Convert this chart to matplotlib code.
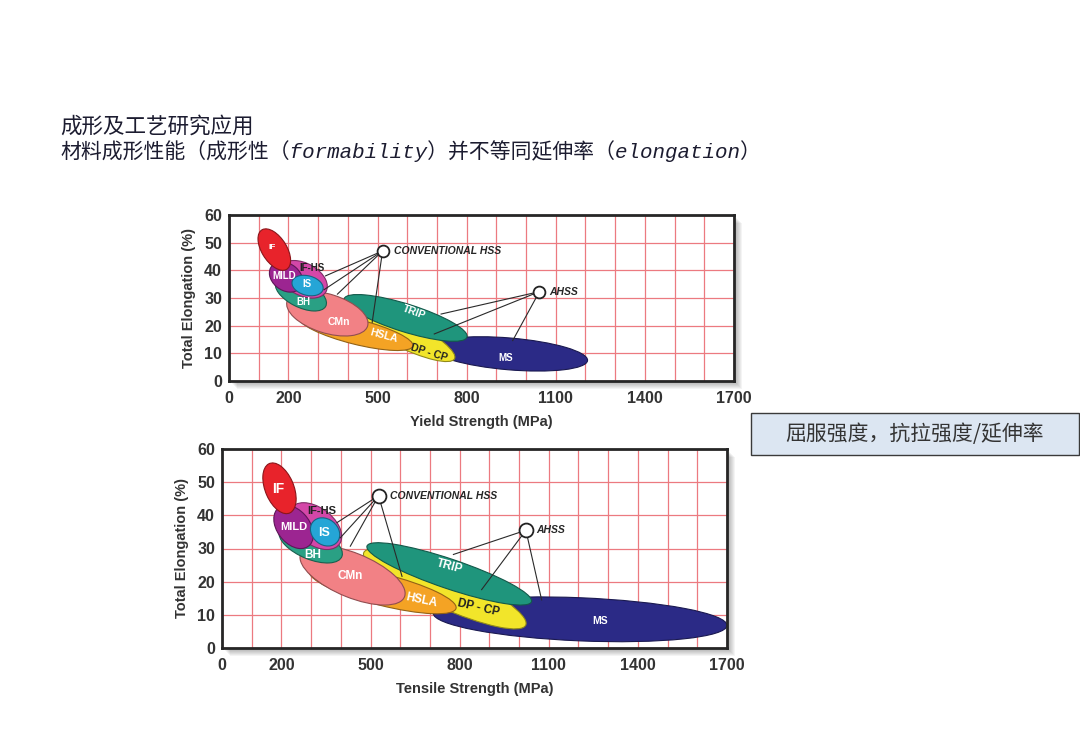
import numpy as np
import matplotlib
matplotlib.use("Agg")
import matplotlib.pyplot as plt
from matplotlib.patches import Ellipse, Rectangle
from matplotlib.transforms import Affine2D
import matplotlib.colors as mcolors

# ---------------- data ----------------
materials = ['MS', 'DP - CP', 'TRIP', 'HSLA', 'CMn', 'BH', 'IF-HS', 'MILD', 'IS', 'IF']
colors = ['#2b2a86', '#f2e52a', '#1f957c', '#f4a324', '#f28185', '#2aa084',
          '#d447a8', '#9c2591', '#25a5d6', '#e8232b']
label_colors = ['white', '#222222', 'white', 'white', 'white', 'white',
                '#222222', 'white', 'white', 'white']

# yield strength chart: major-axis tips (MPa, %) and minor axis (grid units)
ys_x1 = [680, 400, 388, 236, 196, 159, 174, 146, 213, 112]
ys_y1 = [12.2, 27.0, 29.8, 23.0, 29.0, 36.1, 41.5, 41.8, 36.1, 54.7]
ys_x2 = [1207, 759, 801, 619, 466, 325, 325, 238, 316, 193]
ys_y2 = [7.4, 8.0, 15.8, 12.6, 19.7, 26.9, 32.0, 33.4, 32.9, 40.3]
ys_minor = [1.15, 1.0, 1.0, 0.9, 1.4, 0.95, 1.15, 0.95, 0.7, 0.85]
ys_lx = [932, 673, 624, 522, 370, 252, 278, 185, 264, 146]
ys_ly = [8.4, 10.4, 24.8, 16.4, 21.2, 28.4, 41.0, 38.0, 35.0, 48.1]
ys_rot = [0, -17, -20, -15, 0, 0, 0, 0, 0, 0]
ys_fs = [7, 7.5, 7.5, 7.5, 7.5, 7, 7, 7, 7, 6]

# tensile strength chart
ts_x1 = [711, 477, 488, 294, 264, 193, 230, 185, 301, 157]
ts_y1 = [10.5, 28.7, 30.7, 23.1, 28.2, 35.3, 41.8, 41.8, 37.3, 55.5]
ts_x2 = [1700, 1023, 1042, 788, 615, 404, 398, 297, 393, 230]
ts_y2 = [6.8, 7.0, 14.0, 12.0, 15.6, 27.7, 31.7, 31.2, 32.7, 40.8]
ts_minor = [1.3, 1.15, 0.9, 0.95, 1.35, 0.95, 1.15, 1.05, 0.8, 0.95]
ts_lx = [1272, 863, 767, 673, 432, 305, 337, 241, 342, 191]
ts_ly = [8.0, 12.0, 24.6, 14.5, 21.8, 27.9, 41.3, 36.6, 34.7, 47.9]
ts_rot = [0, -13, -15, -12, 0, 0, 0, 0, 0, 0]
ts_fs = [7.5, 8.5, 8.5, 8.5, 8.5, 8.5, 8, 8, 9, 10]

# callouts: (x, y) of circle and ends of the leader lines
ys_chss = (517, 47.0)
ys_chss_ends_x = [325, 320, 365, 482]
ys_chss_ends_y = [38.0, 33.0, 31.4, 21.2]
ys_ahss = (1045, 32.3)
ys_ahss_ends_x = [714, 691, 955]
ys_ahss_ends_y = [24.2, 17.0, 14.6]

ts_chss = (527, 45.9)
ts_chss_ends_x = [387, 398, 432, 606]
ts_chss_ends_y = [37.8, 33.2, 30.7, 21.6]
ts_ahss = (1023, 35.5)
ts_ahss_ends_x = [779, 874, 1076]
ts_ahss_ends_y = [28.2, 17.6, 14.5]

xtick_vals = [0, 200, 500, 800, 1100, 1400, 1700]
ytick_vals = [0, 10, 20, 30, 40, 50, 60]

title1 = '成形及工艺研究应用'
title2 = '材料成形性能（成形性（formability）并不等同延伸率（elongation）'
box_text = '屈服强度，抗拉强度/延伸率'

# ---------------- drawing ----------------
W, H = 1080, 748
fig = plt.figure(figsize=(W / 100, H / 100), dpi=100)
fig.patch.set_facecolor('white')

GRID = '#ec7a80'
TICKFONT = dict(family='Liberation Sans', weight='bold', size=11.5, color='#333333')


def darken(c, f=0.6):
    r, g, b = mcolors.to_rgb(c)
    return (r * f, g * f, b * f)


def shadow(rect_px):
    x0, y0, w, h = rect_px
    for k in range(1, 9):
        fig.add_artist(Rectangle(((x0 + k) / W, (y0 - k) / H), w / W, h / H,
                                 transform=fig.transFigure, facecolor='#000000',
                                 edgecolor='none', alpha=0.045, zorder=-5))


def make_axes(left, top, bottom):
    rect = [left / W, 1 - bottom / H, 505 / W, (bottom - top) / H]
    shadow((left, H - bottom, 505, bottom - top))
    ax = fig.add_axes(rect)
    ax.set_xlim(0, 1700)
    ax.set_ylim(0, 60)
    ax.set_xticks(xtick_vals)
    ax.set_xticks(np.arange(0, 1701, 100), minor=True)
    ax.set_yticks(ytick_vals)
    ax.set_xticklabels([str(v) for v in xtick_vals], **TICKFONT)
    ax.set_yticklabels([str(v) for v in ytick_vals], **TICKFONT)
    ax.tick_params(which='both', length=0)
    ax.tick_params(axis='x', pad=7)
    ax.tick_params(axis='y', pad=5)
    ax.grid(True, which='both', color=GRID, lw=0.9)
    ax.set_axisbelow(True)
    for s in ax.spines.values():
        s.set_linewidth(2)
        s.set_color('#262626')
    return ax


def draw_chart(ax, x1, y1, x2, y2, minor, lx, ly, rot, fs,
               chss, chx, chy, ahss, ahx, ahy, xlabel, msz):
    gtrans = Affine2D().scale(100, 10) + ax.transData
    for i, name in enumerate(materials):
        p1 = np.array([x1[i] / 100, y1[i] / 10])
        p2 = np.array([x2[i] / 100, y2[i] / 10])
        c = (p1 + p2) / 2
        d = p2 - p1
        length = np.hypot(*d)
        ang = np.degrees(np.arctan2(d[1], d[0]))
        e = Ellipse(c, length, minor[i], angle=ang, transform=gtrans,
                    facecolor=colors[i], edgecolor=darken(colors[i]),
                    lw=0.8, zorder=2 + i * 0.01)
        ax.add_patch(e)
    # leader lines
    for ex, ey in zip(chx, chy):
        ax.plot([chss[0], ex], [chss[1], ey], color='#2a2a2a', lw=0.8, zorder=3)
    for ex, ey in zip(ahx, ahy):
        ax.plot([ahss[0], ex], [ahss[1], ey], color='#2a2a2a', lw=0.8, zorder=3)
    for pt in (chss, ahss):
        ax.plot(pt[0], pt[1], 'o', ms=msz, mfc='white', mec='#222222',
                mew=1.3, zorder=4)
    ax.text(chss[0] + 38, chss[1], 'CONVENTIONAL HSS', ha='left', va='center',
            family='Liberation Sans', weight='bold', style='italic',
            fontsize=7.5, color='#262626', zorder=5)
    ax.text(ahss[0] + 34, ahss[1], 'AHSS', ha='left', va='center',
            family='Liberation Sans', weight='bold', style='italic',
            fontsize=7.5, color='#262626', zorder=5)
    for i, name in enumerate(materials):
        ax.text(lx[i], ly[i], name, ha='center', va='center', rotation=rot[i],
                family='Liberation Sans', weight='bold', fontsize=fs[i],
                color=label_colors[i], zorder=6)
    ax.set_xlabel(xlabel, family='Liberation Sans', weight='bold',
                  fontsize=10.5, color='#333333', labelpad=7)
    ax.set_ylabel('Total Elongation (%)', family='Liberation Sans',
                  weight='bold', fontsize=10.5, color='#333333', labelpad=6)


ax1 = make_axes(229, 215, 381)
draw_chart(ax1, ys_x1, ys_y1, ys_x2, ys_y2, ys_minor, ys_lx, ys_ly, ys_rot,
           ys_fs, ys_chss, ys_chss_ends_x, ys_chss_ends_y, ys_ahss,
           ys_ahss_ends_x, ys_ahss_ends_y, 'Yield Strength (MPa)', 8.5)

ax2 = make_axes(222, 449, 648)
draw_chart(ax2, ts_x1, ts_y1, ts_x2, ts_y2, ts_minor, ts_lx, ts_ly, ts_rot,
           ts_fs, ts_chss, ts_chss_ends_x, ts_chss_ends_y, ts_ahss,
           ts_ahss_ends_x, ts_ahss_ends_y, 'Tensile Strength (MPa)', 10)

# titles
tfam = ['Liberation Mono', 'Noto Sans CJK SC', 'DejaVu Sans']
fig.text(60 / W, 1 - 127 / H, title1, ha='left', va='center', fontsize=15.5,
         family=tfam, style='italic', color='#1c1c30')
fig.text(60 / W, 1 - 151 / H, title2, ha='left', va='center', fontsize=15,
         family=tfam, style='italic', color='#1c1c30')

# side box
fig.add_artist(Rectangle((751 / W, 1 - 455 / H), 328 / W, 42 / H,
                         transform=fig.transFigure, facecolor='#dce6f2',
                         edgecolor='#3a3a3a', lw=1.0))
fig.text(915 / W, 1 - 434 / H, box_text, ha='center', va='center',
         fontsize=15, family=['Noto Sans CJK SC', 'DejaVu Sans'],
         color='#333333')

fig.savefig('out.png', dpi=100)
